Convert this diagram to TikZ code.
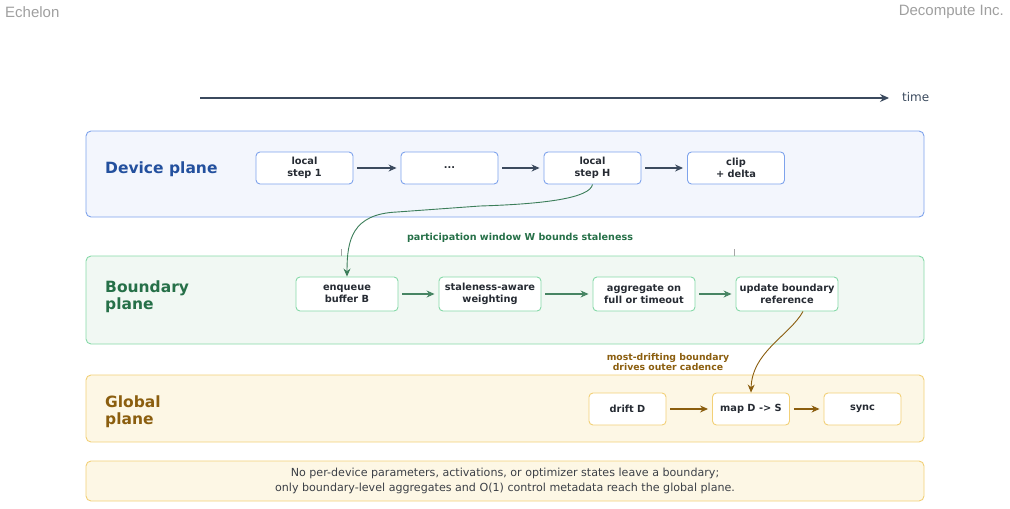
\documentclass[tikz,border=0pt]{standalone}
\usepackage{fontspec}
\setmainfont{DejaVu Sans}
\newfontfamily\headfont{Liberation Sans}
\usetikzlibrary{arrows.meta,positioning}
\definecolor{SlateInk}{HTML}{3B4A5E}
\definecolor{TextInk}{HTML}{262B33}
\definecolor{DevLine}{HTML}{7EA3EC}
\definecolor{DevFill}{HTML}{F3F6FD}
\definecolor{DevText}{HTML}{23509E}
\definecolor{BndLine}{HTML}{86D9A8}
\definecolor{BndFill}{HTML}{F1F8F3}
\definecolor{BndText}{HTML}{267048}
\definecolor{GlbLine}{HTML}{F2D077}
\definecolor{GlbFill}{HTML}{FDF7E5}
\definecolor{GlbText}{HTML}{8B5E0F}

\begin{document}
\begin{tikzpicture}[x=1pt,y=-1pt,
    plane/.style={draw,rounded corners=5pt,line width=0.9pt,minimum width=838pt,inner sep=0pt},
    planetitle/.style={anchor=west,align=left,inner sep=0pt,font=\bfseries\fontsize{15.5}{16.5}\selectfont},
    stepbox/.style={draw,rounded corners=4pt,fill=white,line width=0.9pt,align=center,
      text=TextInk,font=\bfseries\fontsize{9.8}{11.8}\selectfont,inner sep=0pt},
    flow/.style={-{Stealth[length=8pt,width=7pt]},line width=1.1pt,shorten >=4pt,shorten <=4pt},
  ]
    \useasboundingbox (0,0) rectangle (1010,509);
    % header
    \node[anchor=west,inner sep=0pt,text=gray!75,font=\headfont\fontsize{15}{16}\selectfont] (brand) at (5,12) {Echelon};
    \node[anchor=east,inner sep=0pt,text=gray!75,font=\headfont\fontsize{15}{16}\selectfont] (org) at (1004,12) {Decompute Inc.};
    % time axis
    \coordinate (t0) at (200,98);
    \coordinate (t1) at (889,98);
    \draw[SlateInk,line width=1.1pt,-{Stealth[length=9pt,width=8pt]}] (t0) -- (t1);
    \node[anchor=west,inner sep=0pt,text=SlateInk,font=\fontsize{12}{13}\selectfont] (tlab) at (902,97) {time};

    % planes
    \node[plane,draw=DevLine,fill=DevFill,minimum height=86pt] (dev) at (505,174) {};
    \node[plane,draw=BndLine,fill=BndFill,minimum height=88pt] (bnd) at (505,300) {};
    \node[plane,draw=GlbLine,fill=GlbFill,minimum height=67pt] (glb) at (505,408.5) {};
    \node[plane,draw=GlbLine,fill=GlbFill,minimum height=40pt,align=center,text=TextInk!90,
      font=\fontsize{11.1}{15}\selectfont] (note) at (505,481)
      {No per-device parameters, activations, or optimizer states leave a boundary;\\
       only boundary-level aggregates and O(1) control metadata reach the global plane.};

    \node[planetitle,text=DevText] (devt) at (105,169.5) {Device plane};
    \node[planetitle,text=BndText] (bndt) at (105,296.5) {Boundary\\plane};
    \node[planetitle,text=GlbText] (glbt) at (105,411.5) {Global\\plane};

    % device plane
    \foreach \n/\x/\lab in {d1/304.5/{local\\step 1},d2/449.5/{...},d3/592.5/{local\\step H},d4/736/{clip\\+ delta}}{
      \node[stepbox,draw=DevLine,minimum width=97pt,minimum height=32pt] (\n) at (\x,168) {\lab};
    }
    \foreach \a/\b in {d1/d2,d2/d3,d3/d4}{
      \draw[flow,SlateInk] (\a) -- (\b);
    }

    % boundary plane
    \foreach \n/\x/\lab in {b1/347/{enqueue\\buffer B},b2/490/{staleness-aware\\weighting},
        b3/644/{aggregate on\\full or timeout},b4/787/{update boundary\\reference}}{
      \node[stepbox,draw=BndLine,minimum width=102pt,minimum height=34pt] (\n) at (\x,294) {\lab};
    }
    \foreach \a/\b in {b1/b2,b2/b3,b3/b4}{
      \draw[flow,BndText!85] (\a) -- (\b);
    }
    \node[text=BndText,font=\bfseries\fontsize{9.6}{10}\selectfont] (win) at (520,238)
      {participation window W bounds staleness};
    \coordinate (wl) at (341,249);
    \coordinate (wr) at (734,249);
    \draw[gray!70,line width=0.8pt] (wl) -- ++(0,7) (wr) -- ++(0,7);

    % global plane
    \foreach \n/\x/\lab in {g1/627.5/{drift D},g2/751/{map D -> S},g3/862.5/{sync}}{
      \node[stepbox,draw=GlbLine,minimum width=77pt,minimum height=32pt] (\n) at (\x,409) {\lab};
    }
    \foreach \a/\b in {g1/g2,g2/g3}{
      \draw[flow,GlbText] (\a) -- (\b);
    }
    \node[align=center,text=GlbText,font=\bfseries\fontsize{9.3}{10.5}\selectfont] (cad) at (668,362)
      {most-drifting boundary\\drives outer cadence};

    % hand-offs between planes
    \draw[BndText!90,line width=0.9pt,-{Stealth[length=8pt,width=7pt]}]
      (d3.south) .. controls (590,198) and (545,204) .. (480,206)
      -- (397,212) .. controls (352,214) and (347,240) .. (b1.north);
    \draw[GlbText,line width=0.9pt,-{Stealth[length=8pt,width=7pt]}]
      ([xshift=16pt]b4.south) .. controls (790,335) and (752,352) .. (g2.north);
\end{tikzpicture}
\end{document}
